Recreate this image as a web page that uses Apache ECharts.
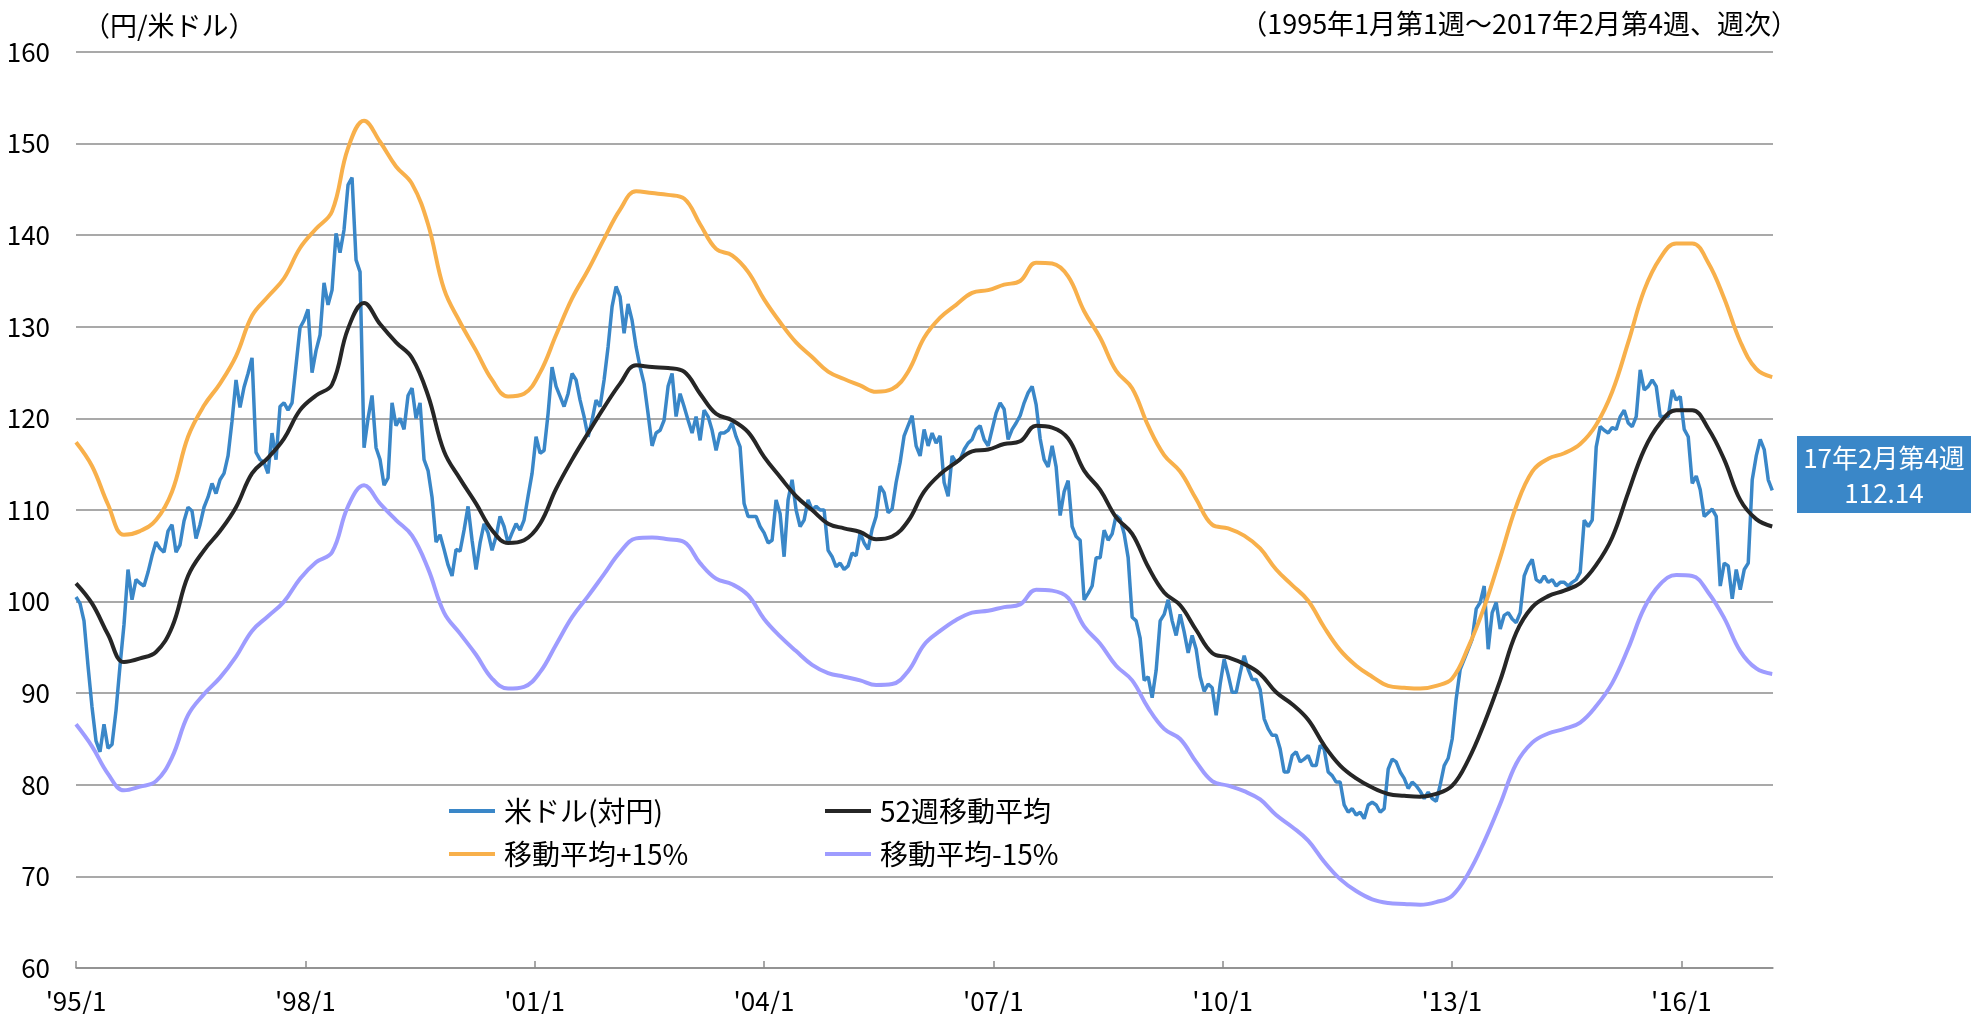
<!DOCTYPE html>
<html>
<head>
<meta charset="utf-8">
<title>米ドル（対円）と52週移動平均</title>
<script src="https://cdn.jsdelivr.net/npm/echarts@6/dist/echarts.min.js"></script>
<style>
  html, body { margin: 0; padding: 0; background: #fff; }
  #main { width: 1971px; height: 1014px; }
</style>
</head>
<body>
<div id="main"></div>
<script>
// 週次データを読み取った値（1995年1月第1週～2017年2月第4週）
// 米ドル（対円）: 約2.7週ごとの値
const usdJpy = [
  100.5, 99.8, 97.9, 93, 88.5, 84.8, 83.6, 86.6, 84, 84.4,
  88.1, 93, 97.5, 103.5, 100.2, 102.4, 102, 101.7, 103.2, 105,
  106.5, 105.8, 105.4, 107.7, 108.4, 105.4, 106.2, 108.8, 110.3, 109.9,
  106.9, 108.4, 110.3, 111.4, 112.9, 111.8, 113.3, 114, 115.9, 119.7,
  124.2, 121.2, 123.4, 124.9, 126.6, 116.3, 115.5, 115.2, 114, 118.4,
  115.5, 121.3, 121.7, 120.9, 121.7, 125.8, 129.9, 130.7, 131.9, 125,
  127.4, 129.1, 134.8, 132.4, 134, 140.2, 138.1, 140.6, 145.5, 146.3,
  137.3, 136, 116.8, 120, 122.5, 116.8, 115.5, 112.7, 113.5, 121.7,
  119.2, 120, 118.8, 122.5, 123.3, 120, 121.7, 115.5, 114.3, 111.4,
  106.5, 107.3, 105.7, 104, 102.8, 105.7, 105.5, 107.8, 110.4, 106.7,
  103.5, 106.4, 108.5, 107.5, 105.6, 107.1, 109.3, 108.2, 106.4, 107.5,
  108.5, 107.8, 108.9, 111.5, 114, 118, 116.2, 116.5, 120.5, 125.6,
  123.5, 122.4, 121.3, 122.7, 124.9, 124.2, 122, 120.2, 118, 119.8,
  122, 121.3, 124.2, 127.8, 132.2, 134.4, 133.3, 129.3, 132.5, 130.7,
  127.8, 125.6, 123.8, 120.5, 117, 118.4, 118.7, 119.8, 123.5, 124.9,
  120.2, 122.7, 121.3, 119.8, 118.4, 120.2, 117.6, 120.9, 120.2, 118.7,
  116.5, 118.4, 118.4, 118.7, 119.5, 118, 116.9, 110.7, 109.3, 109.3,
  109.3, 108.2, 107.5, 106.4, 106.7, 111.1, 109.6, 104.9, 111.1, 113.3,
  110, 108.2, 108.9, 111.1, 110, 110.4, 110, 110, 105.6, 104.9,
  103.8, 104.2, 103.5, 103.9, 105.3, 105, 107.5, 106.4, 105.7, 107.9,
  109.3, 112.6, 111.9, 109.7, 110.1, 113, 115.2, 118.1, 119.2, 120.3,
  117, 115.9, 118.8, 117, 118.4, 117.3, 118.1, 113, 111.5, 115.9,
  115.2, 115.5, 116.6, 117.3, 117.7, 118.8, 119.2, 117.7, 117, 118.8,
  120.6, 121.7, 121, 117.7, 118.8, 119.5, 120.3, 121.7, 122.8, 123.5,
  121.5, 117.8, 115.5, 114.7, 117, 114.7, 109.4, 112, 113.2, 108.2,
  107.1, 106.7, 100.2, 100.9, 101.7, 104.8, 104.8, 107.8, 106.7, 107.4,
  109.4, 109, 107.4, 104.8, 98.3, 97.9, 96, 91.4, 91.8, 89.5,
  92.5, 97.9, 98.6, 100.2, 97.9, 96.3, 98.6, 96.7, 94.4, 96.3,
  94.8, 91.8, 90.2, 91, 90.6, 87.6, 91, 93.7, 92, 90.1,
  90.1, 92.2, 94.1, 92.6, 91.5, 91.5, 90.4, 87.2, 86.1, 85.4,
  85.4, 83.9, 81.4, 81.4, 83.2, 83.6, 82.5, 82.8, 83.2, 82.1,
  82.1, 84.3, 83.9, 81.4, 81, 80.3, 80.3, 77.8, 77, 77.4,
  76.7, 77, 76.3, 77.8, 78.1, 77.8, 77, 77.4, 81.7, 82.8,
  82.5, 81.4, 80.7, 79.6, 80.3, 79.9, 79.3, 78.5, 79.2, 78.5,
  78.2, 80, 82.1, 82.9, 85, 89.4, 92.6, 93.7, 94.8, 95.9,
  99.2, 99.9, 101.7, 94.8, 98.8, 99.9, 97, 98.5, 98.8, 98.1,
  97.7, 98.8, 102.8, 103.9, 104.6, 102.4, 102.1, 102.8, 102.1, 102.4,
  101.7, 102.1, 102.1, 101.7, 102.1, 102.4, 103.2, 108.9, 108.2, 108.9,
  116.9, 119.1, 118.7, 118.4, 119, 118.8, 120.2, 120.9, 119.5, 119.1,
  120.2, 125.3, 123.1, 123.5, 124.2, 123.5, 120.2, 120.2, 120.2, 123.1,
  122, 122.4, 118.8, 118, 112.9, 113.7, 112.2, 109.3, 109.7, 110.1,
  109.3, 101.7, 104.2, 103.9, 100.3, 103.5, 101.3, 103.5, 104.2, 113.3,
  115.9, 117.7, 116.6, 113.3, 112.14
]

// 移動平均系は米ドルの4点ごと
const ma52 = [
  102, 99.8, 96.4, 93.4, 93.8, 94.5, 97.2, 102.8, 105.6, 107.7,
  110.3, 114, 115.7, 117.8, 120.9, 122.5, 123.7, 129.8, 132.6, 130.3,
  128.3, 126.6, 122.5, 116.4, 113.4, 110.7, 107.8, 106.4, 106.7, 108.5,
  112.3, 115.5, 118.4, 121.2, 123.8, 125.8, 125.6, 125.5, 125.1, 122.7,
  120.5, 119.8, 118.5, 115.8, 113.6, 111.5, 110, 108.5, 108, 107.6,
  106.8, 107.1, 108.8, 112, 113.9, 115.2, 116.4, 116.6, 117.2, 117.5,
  119.2, 119, 117.8, 114.3, 112.2, 109.2, 107.4, 103.8, 101, 99.6,
  96.9, 94.4, 93.9, 93.2, 92.1, 90.1, 88.8, 87.1, 84.3, 82.1,
  80.7, 79.7, 79, 78.8, 78.7, 79, 79.9, 82.7, 86.7, 91.4,
  96.6, 99.4, 100.6, 101.2, 102, 104, 107, 111.9, 116.6, 119.5,
  120.9, 120.9, 118.9, 115.5, 111.1, 109, 108.2
]

const maPlus15 = [
  117.4, 114.8, 110.6, 107.3, 107.7, 108.9, 112, 118, 121.4, 123.8,
  126.8, 131.2, 133.3, 135.3, 138.6, 140.7, 142.6, 149.5, 152.5, 150.2,
  147.5, 145.6, 141.2, 134.1, 130.5, 127.4, 124.2, 122.4, 122.7, 125,
  129.1, 133.1, 136.2, 139.6, 142.8, 144.8, 144.6, 144.4, 144, 141.2,
  138.5, 137.8, 136, 133, 130.5, 128.3, 126.7, 125.1, 124.3, 123.6,
  122.9, 123.2, 125.1, 128.8, 131, 132.4, 133.7, 134, 134.6, 135,
  137, 136.9, 135.5, 131.7, 128.8, 125.2, 123.3, 119.2, 116, 114.2,
  111.2, 108.4, 108, 107.2, 105.8, 103.5, 101.8, 100.1, 97.2, 94.7,
  93, 91.8, 90.8, 90.6, 90.5, 90.8, 91.6, 95, 99.4, 104.8,
  110.4, 114.2, 115.6, 116.2, 117.2, 119.3, 122.9, 128.3, 134, 137.5,
  139.1, 139.1, 137, 133.1, 128.4, 125.4, 124.5
]

const maMinus15 = [
  86.6, 84.2, 81.2, 79.4, 79.8, 80.4, 83, 87.6, 89.9, 91.7,
  94, 96.8, 98.4, 100, 102.5, 104.3, 105.4, 110.4, 112.7, 110.7,
  108.9, 107.2, 103.6, 98.8, 96.5, 94.2, 91.6, 90.5, 90.7, 92.3,
  95.3, 98.3, 100.6, 103, 105.4, 106.9, 107, 106.8, 106.5, 104.2,
  102.5, 101.9, 100.7, 98.1, 96.2, 94.6, 93.1, 92.2, 91.8, 91.4,
  90.9, 91, 92.4, 95.3, 96.8, 98, 98.8, 99, 99.4, 99.7,
  101.3, 101.2, 100.4, 97.3, 95.4, 93, 91.4, 88.4, 86.1, 85,
  82.5, 80.4, 79.9, 79.3, 78.4, 76.7, 75.4, 73.9, 71.6, 69.7,
  68.4, 67.5, 67.1, 67, 66.9, 67.2, 67.9, 70.3, 73.8, 77.9,
  82.3, 84.6, 85.6, 86.1, 86.8, 88.6, 91.1, 94.9, 99.3, 101.9,
  102.9, 102.8, 101, 98.2, 94.6, 92.7, 92.1
]

const xTicks = [1995, 1998, 2001, 2004, 2007, 2010, 2013, 2016]
const xTickLabels = ["'95/1", "'98/1", "'01/1", "'04/1", "'07/1", "'10/1", "'13/1", "'16/1"]

// 1点あたりの年数（約2.7週）
const STEP = 0.052335
const FONT = "'Noto Sans CJK JP', 'Noto Sans', sans-serif"

const usdData = usdJpy.map((v, i) => [1995 + i * STEP, v])
const toMa = arr => arr.map((v, i) => [1995 + i * 4 * STEP, v])

const myChart = echarts.init(document.getElementById('main'))

const legendBase = {
  orient: 'horizontal',
  icon: 'rect',
  itemWidth: 46,
  itemHeight: 4,
  textStyle: { fontFamily: FONT, fontSize: 28, color: '#000', padding: [0, 0, 0, 4] }
}

const option = {
  backgroundColor: '#fff',
  animation: false,
  textStyle: { fontFamily: FONT },
  title: [
    {
      text: '（円/米ドル）',
      left: 78,
      top: 7,
      textStyle: { fontFamily: FONT, fontSize: 27, fontWeight: 'normal', color: '#000' }
    },
    {
      text: '（1995年1月第1週～2017年2月第4週、週次）',
      right: 168,
      top: 5,
      textStyle: { fontFamily: FONT, fontSize: 27, fontWeight: 'normal', color: '#000' }
    }
  ],
  legend: [
    Object.assign({ data: ['米ドル(対円)'], left: 444, top: 792 }, legendBase),
    Object.assign({ data: ['52週移動平均'], left: 820, top: 792 }, legendBase),
    Object.assign({ data: ['移動平均+15%'], left: 444, top: 835 }, legendBase),
    Object.assign({ data: ['移動平均-15%'], left: 820, top: 835 }, legendBase)
  ],
  grid: {
    left: 76,
    right: 198,
    top: 52,
    bottom: 45,
    containLabel: false
  },
  xAxis: {
    type: 'value',
    min: 1995,
    max: 2017.2,
    interval: 3,
    axisLine: { show: true, lineStyle: { color: '#8c8c8c', width: 1.5 } },
    axisTick: {
      show: true,
      inside: true,
      length: 7,
      customValues: xTicks,
      lineStyle: { color: '#8c8c8c', width: 1.5 }
    },
    axisLabel: {
      customValues: xTicks,
      formatter: v => xTickLabels[xTicks.indexOf(Math.round(v))] || '',
      fontFamily: FONT,
      fontSize: 26,
      color: '#000',
      margin: 20
    },
    splitLine: { show: false }
  },
  yAxis: {
    type: 'value',
    min: 60,
    max: 160,
    interval: 10,
    axisLine: { show: false },
    axisTick: { show: false },
    axisLabel: { fontFamily: FONT, fontSize: 26, color: '#000', margin: 26 },
    splitLine: { lineStyle: { color: '#8c8c8c', width: 1.5 } }
  },
  graphic: [
    {
      type: 'rect',
      left: 1797,
      top: 436,
      shape: { width: 174, height: 77 },
      style: { fill: '#3a87c8' }
    },
    {
      type: 'text',
      x: 1884,
      y: 458,
      style: {
        text: '17年2月第4週',
        fill: '#fff',
        font: '26px ' + FONT,
        align: 'center',
        verticalAlign: 'middle'
      }
    },
    {
      type: 'text',
      x: 1884,
      y: 493,
      style: {
        text: '112.14',
        fill: '#fff',
        font: '26px ' + FONT,
        align: 'center',
        verticalAlign: 'middle'
      }
    }
  ],
  series: [
    {
      name: '米ドル(対円)',
      type: 'line',
      data: usdData,
      symbol: 'none',
      color: '#3a87c8',
      lineStyle: { width: 3.5, color: '#3a87c8' }
    },
    {
      name: '52週移動平均',
      type: 'line',
      data: toMa(ma52),
      symbol: 'none',
      smooth: 0.4,
      color: '#262626',
      lineStyle: { width: 4, color: '#262626' }
    },
    {
      name: '移動平均+15%',
      type: 'line',
      data: toMa(maPlus15),
      symbol: 'none',
      smooth: 0.4,
      color: '#f8b04b',
      lineStyle: { width: 4, color: '#f8b04b' }
    },
    {
      name: '移動平均-15%',
      type: 'line',
      data: toMa(maMinus15),
      symbol: 'none',
      smooth: 0.4,
      color: '#9e9cff',
      lineStyle: { width: 4, color: '#9e9cff' }
    }
  ]
}

myChart.setOption(option)
</script>
</body>
</html>
